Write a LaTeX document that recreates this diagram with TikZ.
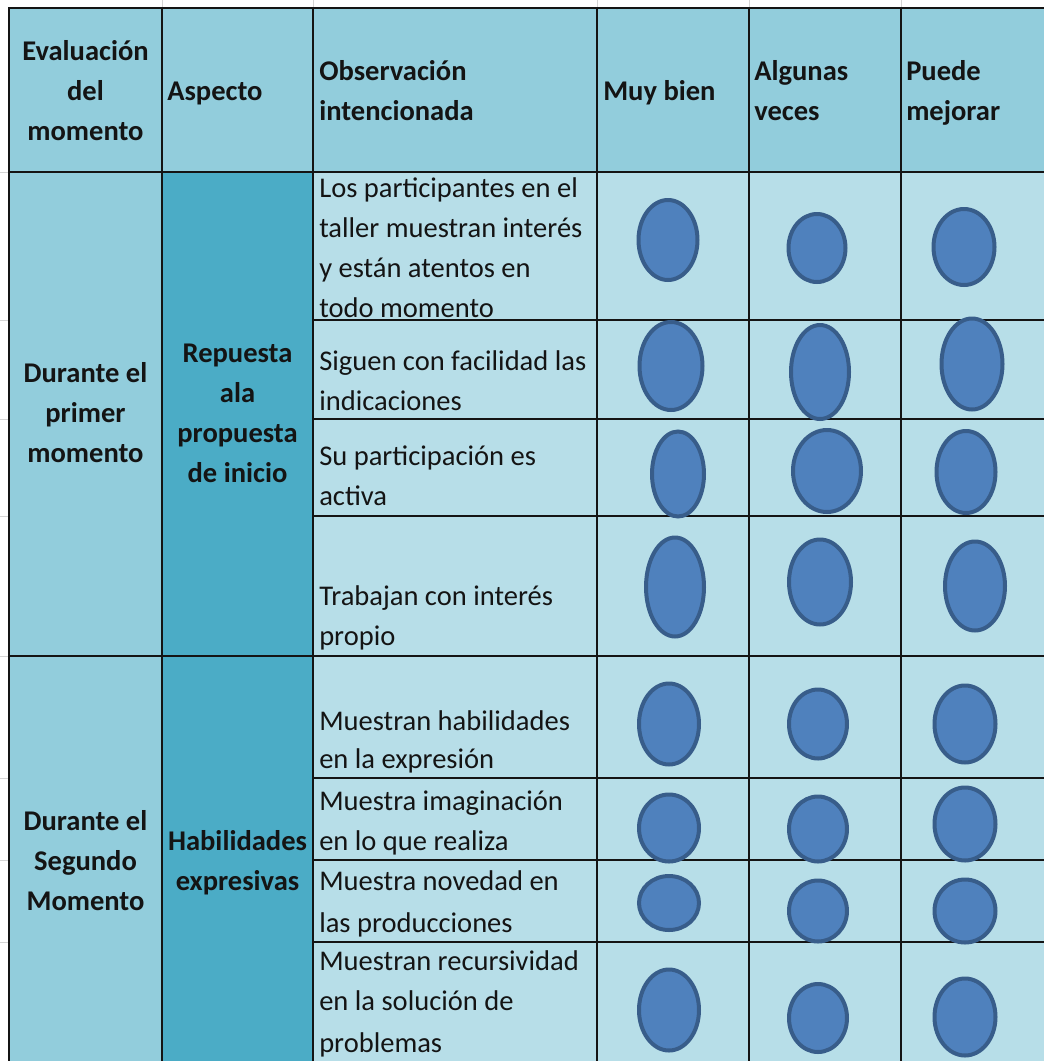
\documentclass[tikz,border=0pt]{standalone}
\usepackage{fontspec}
\setmainfont{Carlito}
\usetikzlibrary{shapes.geometric}
\definecolor{hdr}{HTML}{92CDDC}
\definecolor{asp}{HTML}{4BACC6}
\definecolor{cellc}{HTML}{B7DEE8}
\definecolor{blobfill}{HTML}{4F81BD}
\definecolor{blobline}{HTML}{385D8A}
\definecolor{gridc}{HTML}{D4D4D4}
\definecolor{ink}{HTML}{141414}
\newcommand\evalmark[5]{\node[blobshape, minimum width={(#4-4)*0.75pt}, minimum height={(#5-4)*0.75pt}] (#1) at (#2,#3) {};}
\begin{document}
\begin{tikzpicture}[x=0.75pt,y=-0.75pt,
  txt/.style={inner sep=0pt, text=ink, font=\fontsize{21.4}{30}\selectfont},
  lt/.style={txt, anchor=base west},
  bl/.style={txt, anchor=base west, font=\fontsize{21.4}{30}\selectfont\bfseries},
  ct/.style={txt, anchor=base, font=\fontsize{21.4}{30}\selectfont\bfseries},
  blobshape/.style={ellipse, draw=blobline, fill=blobfill, line width=3pt, inner sep=0pt},
  rulel/.style={line width=1.5pt, draw=ink},
  faint/.style={draw=gridc, line width=0.75pt}]
\useasboundingbox (0,0) rectangle (1044,1061);
\fill[white] (0,0) rectangle (1044,1061);
% margin gridlines
\foreach \gx in {162,313,597,749,901} \draw[faint] (\gx,0) -- (\gx,8);
\foreach \gy in {172,320,419,516,656,778,860,942} \draw[faint] (0,\gy) -- (9,\gy);
% fills
\fill[hdr] (9,8) rectangle (1044,172);
\fill[hdr] (9,172) rectangle (162,1061);
\fill[asp] (162,172) rectangle (313,1061);
\fill[cellc] (313,172) rectangle (1044,1061);
% header texts
\node[ct] (h1a) at (85.5,60) {Evaluación};
\node[ct] (h1b) at (85.5,100) {del};
\node[ct] (h1c) at (85.5,140) {momento};
\node[bl] (h2) at (167,100) {Aspecto};
\node[bl] (h3a) at (319,80) {Observación};
\node[bl] (h3b) at (319,120) {intencionada};
\node[bl] (h4) at (603,100) {Muy bien};
\node[bl] (h5a) at (754,80) {Algunas};
\node[bl] (h5b) at (754,120) {veces};
\node[bl] (h6a) at (906,80) {Puede};
\node[bl] (h6b) at (906,120) {mejorar};
% first group
\node[ct] (g1a) at (85.5,382) {Durante el};
\node[ct] (g1b) at (85.5,422) {primer};
\node[ct] (g1c) at (85.5,462) {momento};
\node[ct] (a1a) at (237.5,362) {Repuesta};
\node[ct] (a1b) at (237.5,402) {ala};
\node[ct] (a1c) at (237.5,442) {propuesta};
\node[ct] (a1d) at (237.5,482) {de inicio};
% second group
\node[ct] (g2a) at (85.5,830) {Durante el};
\node[ct] (g2b) at (85.5,870) {Segundo};
\node[ct] (g2c) at (85.5,910) {Momento};
\node[ct] (a2a) at (237.5,850) {Habilidades};
\node[ct] (a2b) at (237.5,890) {expresivas};
% observation texts
\node[lt] (o1a) at (319,197) {Los participantes en el};
\node[lt] (o1b) at (319,237) {taller muestran interés};
\node[lt] (o1c) at (319,277) {y están atentos en};
\node[lt] (o1d) at (319,317) {todo momento};
\node[lt] (o2a) at (319,370) {Siguen con facilidad las};
\node[lt] (o2b) at (319,410) {indicaciones};
\node[lt] (o3a) at (319,465) {Su participación es};
\node[lt] (o3b) at (319,505) {activa};
\node[lt] (o4a) at (319,605) {Trabajan con interés};
\node[lt] (o4b) at (319,645) {propio};
\node[lt] (o5a) at (319,730) {Muestran habilidades};
\node[lt] (o5b) at (319,768) {en la expresión};
\node[lt] (o6a) at (319,810) {Muestra imaginación};
\node[lt] (o6b) at (319,850) {en lo que realiza};
\node[lt] (o7a) at (319,890) {Muestra novedad en};
\node[lt] (o7b) at (319,932) {las producciones};
\node[lt] (o8a) at (319,970) {Muestran recursividad};
\node[lt] (o8b) at (319,1010) {en la solución de};
\node[lt] (o8c) at (319,1052) {problemas};
% grid lines
\draw[rulel] (9,1061) -- (9,8) -- (1044,8);
\foreach \gx in {162,313,597,749,901} \draw[rulel] (\gx,8) -- (\gx,1061);
\draw[rulel] (9,172) -- (1044,172);
\draw[rulel] (9,656) -- (1044,656);
\foreach \gy in {320,419,516,778,860,942} \draw[rulel] (313,\gy) -- (1044,\gy);
% marks
\evalmark{m11}{668}{240}{63}{84}
\evalmark{m12}{817}{248}{61}{72}
\evalmark{m13}{964}{247}{65}{80}
\evalmark{m21}{671}{366}{67}{92}
\evalmark{m22}{820}{372}{62}{98}
\evalmark{m23}{972}{364}{65}{95}
\evalmark{m31}{678}{474}{56}{89}
\evalmark{m32}{827}{471}{72}{86}
\evalmark{m33}{966}{472}{63}{86}
\evalmark{m41}{675}{587}{62}{103}
\evalmark{m42}{820}{582}{66}{89}
\evalmark{m43}{975}{586}{64}{93}
\evalmark{m51}{669}{724}{64}{85}
\evalmark{m52}{818}{724}{62}{73}
\evalmark{m53}{965}{724}{65}{81}
\evalmark{m61}{669}{828}{64}{71}
\evalmark{m62}{818}{829}{62}{69}
\evalmark{m63}{965}{824}{65}{77}
\evalmark{m71}{669}{903}{64}{58}
\evalmark{m72}{818}{911}{62}{65}
\evalmark{m73}{965}{911}{65}{67}
\evalmark{m81}{669}{1010}{64}{85}
\evalmark{m82}{818}{1018}{62}{72}
\evalmark{m83}{965}{1017}{65}{81}
\end{tikzpicture}
\end{document}
